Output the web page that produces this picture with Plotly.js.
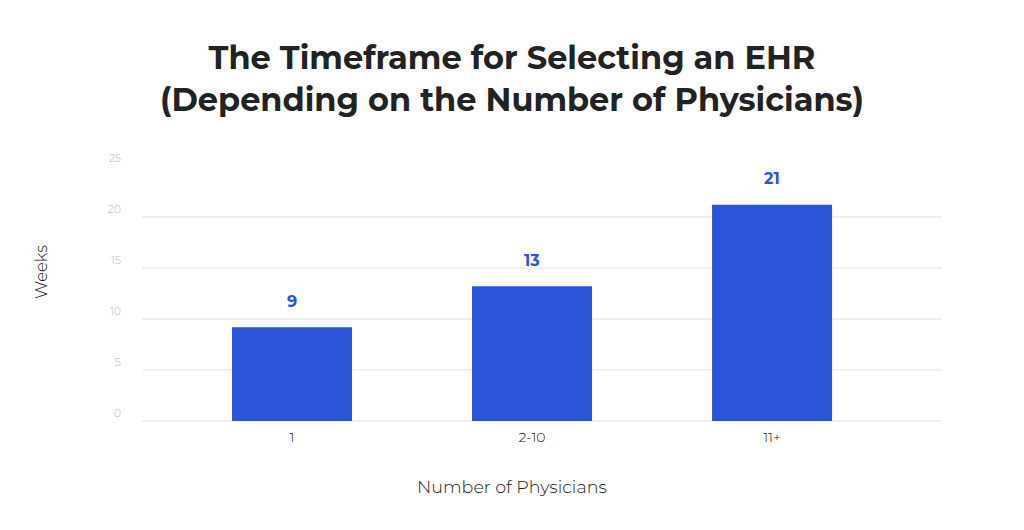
<!DOCTYPE html>
<html>
<head>
<meta charset="utf-8">
<script src="https://cdn.plot.ly/plotly-3.0.1.min.js"></script>
<style>html,body{margin:0;padding:0;background:#fff;}#chart{width:1024px;height:530px;}</style>
</head>
<body>
<div id="chart"></div>
<script>
var categories = ["1", "2-10", "11+"];
var weeks = [9.2, 13.2, 21.2];
var valueLabels = ["9", "13", "21"];
var yTickValues = [0, 5, 10, 15, 20, 25];

var blue = "#2b54d8";
var font = "Montserrat, 'Open Sans', 'Noto Sans', sans-serif";

var trace = {
  type: "bar",
  x: categories,
  y: weeks,
  width: 0.5,
  marker: {color: blue},
  hoverinfo: "x+y"
};

var annotations = categories.map(function (c, i) {
  return {
    x: i, y: weeks[i], xref: "x", yref: "y",
    text: "<b>" + valueLabels[i] + "</b>",
    showarrow: false, yshift: 26, yanchor: "middle",
    font: {family: font, size: 16, color: blue}
  };
});
annotations.push({
  xref: "paper", yref: "paper", x: 0.4625, y: 0, yshift: -65,
  xanchor: "center", yanchor: "middle",
  text: "Number of Physicians", showarrow: false,
  font: {family: font, size: 17.5, color: "#222", weight: 300}
});
annotations.push({
  xref: "paper", yref: "paper", x: 0, y: 0.584, xshift: -101,
  xanchor: "center", yanchor: "middle", textangle: -90,
  text: "Weeks", showarrow: false,
  font: {family: font, size: 16.5, color: "#222", weight: 300}
});

var layout = {
  width: 1024, height: 530,
  margin: {l: 142, r: 82, t: 166, b: 109},
  paper_bgcolor: "#fff", plot_bgcolor: "#fff",
  showlegend: false,
  title: {
    text: "<b>The Timeframe for Selecting an EHR<br>(Depending on the Number of Physicians)</b>",
    x: 0.5, xref: "container", xanchor: "center",
    y: 0.87, yref: "container", yanchor: "middle",
    font: {family: font, size: 32, color: "#222"}
  },
  xaxis: {
    type: "category",
    range: [-0.625, 2.708],
    showgrid: false, zeroline: false, showline: false, ticks: "",
    ticklabelstandoff: 6,
    tickfont: {family: font, size: 14, color: "#222", weight: 300},
    fixedrange: true
  },
  yaxis: {
    range: [0, 25],
    tickvals: yTickValues,
    showgrid: true, gridcolor: "#f0f0f0", gridwidth: 2,
    zeroline: true, zerolinecolor: "#f0f0f0", zerolinewidth: 2,
    showline: false, ticks: "",
    ticklabelposition: "outside top",
    ticklabelstandoff: 20,
    tickfont: {family: font, size: 11, color: "#b8b8b8", weight: 300},
    fixedrange: true
  },
  annotations: annotations
};

Plotly.newPlot("chart", [trace], layout, {displayModeBar: false, staticPlot: true});
</script>
</body>
</html>
